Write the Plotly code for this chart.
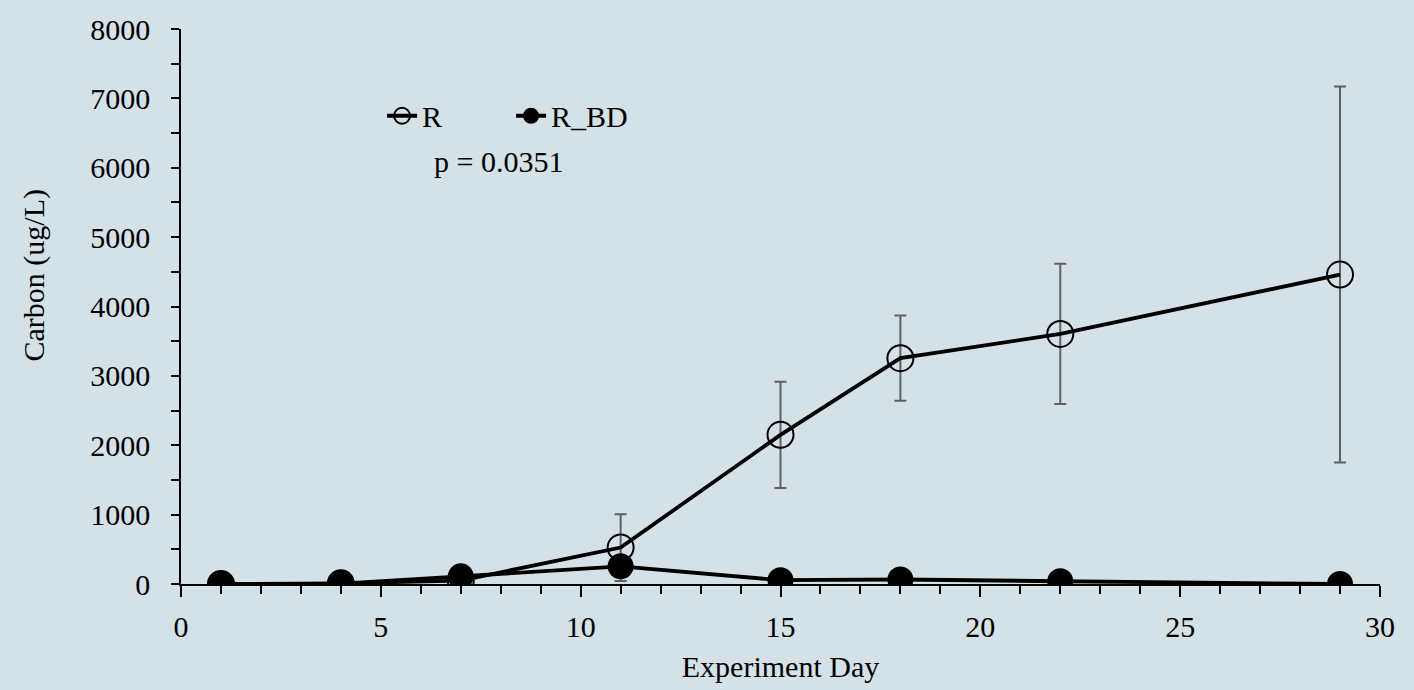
import plotly.graph_objects as go

days = [1, 4, 7, 11, 15, 18, 22, 29]
r_vals = [0, 10, 50, 525, 2150, 3255, 3605, 4460]
r_err = [0, 0, 0, 480, 765, 615, 1010, 2710]
rbd_vals = [0, 5, 110, 255, 55, 65, 40, 0]

x_ticks = [0, 5, 10, 15, 20, 25, 30]
y_ticks = [0, 1000, 2000, 3000, 4000, 5000, 6000, 7000, 8000]

FONT = "Liberation Serif, Times New Roman, serif"
BG = "#d4e2e8"
FS = 30

fig = go.Figure()
fig.add_trace(go.Scatter(
    x=days, y=r_vals, name="R", mode="lines+markers",
    line=dict(color="black", width=3.8),
    marker=dict(symbol="circle-open", size=26, color="black", line=dict(width=2, color="black")),
    error_y=dict(type="data", array=r_err, visible=True, color="#606060", thickness=2, width=6),
))
fig.add_trace(go.Scatter(
    x=days, y=rbd_vals, name="R_BD", mode="lines+markers",
    line=dict(color="black", width=3.8),
    marker=dict(symbol="circle", size=26, color="black"),
))

fig.add_annotation(x=7.95, y=6090, text="p = 0.0351", showarrow=False,
                   font=dict(family=FONT, size=FS, color="black"))
fig.add_annotation(xref="paper", yref="paper", x=-0.123, y=0.555, text="Carbon (ug/L)",
                   textangle=-90, showarrow=False, xanchor="center", yanchor="middle",
                   font=dict(family=FONT, size=FS, color="black"))

fig.update_layout(
    width=1414, height=690,
    paper_bgcolor=BG, plot_bgcolor=BG,
    margin=dict(l=181, r=34, t=23, b=104),
    font=dict(family=FONT, size=FS, color="black"),
    showlegend=True,
    legend=dict(orientation="h", x=0.1677, y=0.8437, xanchor="left", yanchor="middle",
                bgcolor="rgba(0,0,0,0)", font=dict(family=FONT, size=FS),
                entrywidth=84, tracegroupgap=0),
    xaxis=dict(range=[0, 30], tickvals=x_ticks, showline=True, linecolor="black", linewidth=1.5,
               ticks="outside", ticklen=11, tickwidth=1.5, tickcolor="black",
               showgrid=False, zeroline=False,
               minor=dict(dtick=1, ticks="outside", ticklen=8, tickwidth=1.5, tickcolor="black", showgrid=False),
               title=dict(text="Experiment Day", font=dict(family=FONT, size=FS), standoff=14),
               tickfont=dict(family=FONT, size=FS), ticklabelstandoff=4),
    yaxis=dict(range=[0, 8000], tickvals=y_ticks, showline=True, linecolor="black", linewidth=1.5,
               ticks="outside", ticklen=8, tickwidth=1.5, tickcolor="black",
               showgrid=False, zeroline=False,
               minor=dict(dtick=500, ticks="outside", ticklen=8, tickwidth=1.5, tickcolor="black", showgrid=False),
               tickfont=dict(family=FONT, size=FS), ticklabelstandoff=15),
)

fig.write_html("out.html", config={"displayModeBar": False},
               post_script="document.body.style.margin='0';document.body.style.overflow='hidden';")
